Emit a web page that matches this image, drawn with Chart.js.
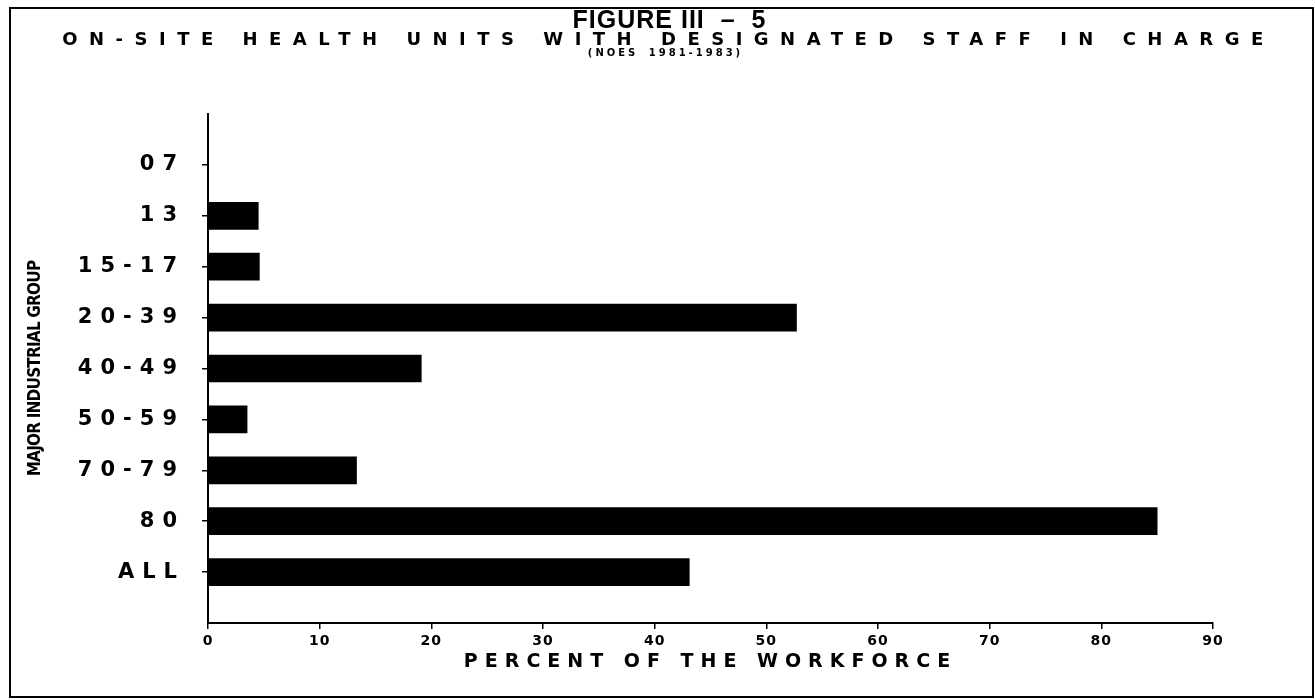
<!DOCTYPE html>
<html>
<head>
<meta charset="utf-8">
<title>Figure III-5</title>
<script src="https://cdn.jsdelivr.net/npm/chart.js@4.4.1/dist/chart.umd.min.js"></script>
<style>
  body { margin: 0; background: #fff; }
  #wrap { position: relative; width: 1315px; height: 700px; overflow: hidden; }
  #frame { position: absolute; left: 9px; top: 7px; width: 1301px; height: 687px; border: 2px solid #000; }
  .head { position: absolute; left: 0; width: 1315px; text-align: center; white-space: pre; color: #000; z-index: 2; }
  #t1 { top: 7px; padding-left: 12px; font: bold 25px 'Liberation Sans', Arial, sans-serif; line-height: 25px; letter-spacing: 1px; }
  #t2 { top: 30px; padding-left: 11px; font: bold 18px 'DejaVu Sans', sans-serif; line-height: 18px; letter-spacing: 11.5px; }
  #t3 { top: 48px; padding-left: 8px; font: bold 10px 'DejaVu Sans', sans-serif; line-height: 10px; letter-spacing: 3px; word-spacing: 4px; }
  canvas { position: absolute; left: 0; top: 0; }
</style>
</head>
<body>
<div id="wrap">
  <div id="frame"></div>
  <div class="head" id="t1">FIGURE III  –  5</div>
  <div class="head" id="t2">ON-SITE HEALTH UNITS WITH DESIGNATED STAFF IN CHARGE</div>
  <div class="head" id="t3">(NOES 1981-1983)</div>
  <canvas id="chart" width="1315" height="700"></canvas>
</div>
<script>
// values (percent of the workforce)
const groups = ['07', '13', '15-17', '20-39', '40-49', '50-59', '70-79', '80', 'ALL'];
const percent = [0, 4.5, 4.6, 52.7, 19.1, 3.5, 13.3, 85.0, 43.1];
const xTicks = [0, 10, 20, 30, 40, 50, 60, 70, 80, 90];
const yTitle = 'MAJOR INDUSTRIAL GROUP';
const xTitle = 'PERCENT OF THE WORKFORCE';

// the old plotter lettering is very wide, so space the canvas text out per axis
const spacing = {
  x: { ticks: '1px', title: '7px' },
  y: { ticks: '8px', title: '-0.8px' }
};

function spaced(Base, id) {
  return class extends Base {
    static id = id;
    static defaults = Base.defaults;
    drawLabels(area) {
      this.ctx.save();
      this.ctx.letterSpacing = spacing[this.id].ticks;
      super.drawLabels(area);
      this.ctx.restore();
    }
    drawTitle() {
      this.ctx.save();
      this.ctx.letterSpacing = spacing[this.id].title;
      super.drawTitle();
      this.ctx.restore();
    }
  };
}

Chart.register(spaced(Chart.CategoryScale, 'spacedCategory'), spaced(Chart.LinearScale, 'spacedLinear'));
Chart.defaults.font.family = "'DejaVu Sans', sans-serif";
Chart.defaults.color = '#000';

const ctx = document.getElementById('chart');
new Chart(ctx, {
  type: 'bar',
  data: {
    // empty slot above and below the groups, like the original axis
    labels: ['', ...groups, ''],
    datasets: [{
      data: [null, ...percent, null],
      backgroundColor: '#000',
      borderWidth: 0,
      barThickness: 27
    }]
  },
  options: {
    indexAxis: 'y',
    responsive: false,
    animation: false,
    layout: { padding: { left: 10, right: 102, top: 114, bottom: 17 } },
    plugins: {
      legend: { display: false },
      tooltip: { enabled: false }
    },
    scales: {
      x: {
        type: 'spacedLinear',
        min: 0,
        max: 90,
        afterBuildTicks: (scale) => { scale.ticks = xTicks.map(v => ({ value: v })); },
        afterFit: (scale) => { scale.height = 60; },
        grid: { drawOnChartArea: false, tickLength: 6, color: '#000', lineWidth: 1.5 },
        border: { color: '#000', width: 2 },
        ticks: { font: { size: 14, weight: 'bold' }, padding: 4, maxRotation: 0 },
        title: {
          display: true,
          text: xTitle,
          font: { size: 19, weight: 'bold' },
          padding: { top: 0, bottom: 10 }
        }
      },
      y: {
        type: 'spacedCategory',
        offset: false,
        afterFit: (scale) => { scale.width = 198; },
        grid: {
          offset: false,
          drawOnChartArea: false,
          tickLength: 6,
          lineWidth: 1.5,
          color: (c) => (c.tick && c.tick.label ? '#000' : 'rgba(0,0,0,0)')
        },
        border: { color: '#000', width: 2 },
        ticks: { font: { size: 21, weight: 'bold' }, padding: 17, autoSkip: false },
        title: {
          display: true,
          text: yTitle,
          font: { family: "'DejaVu Sans Condensed', sans-serif", size: 17, weight: 'bold' },
          padding: { top: 15, bottom: 0 }
        }
      }
    }
  }
});
</script>
</body>
</html>
